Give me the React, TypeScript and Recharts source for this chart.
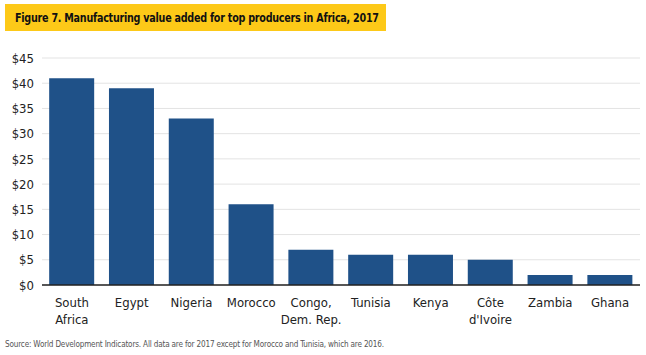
import { Bar, BarChart, CartesianGrid, XAxis, YAxis } from "recharts";

const countries = [
  "South Africa",
  "Egypt",
  "Nigeria",
  "Morocco",
  "Congo, Dem. Rep.",
  "Tunisia",
  "Kenya",
  "Côte d'Ivoire",
  "Zambia",
  "Ghana",
];
const labelLines = [
  ["South", "Africa"],
  ["Egypt"],
  ["Nigeria"],
  ["Morocco"],
  ["Congo,", "Dem. Rep."],
  ["Tunisia"],
  ["Kenya"],
  ["Côte", "d'Ivoire"],
  ["Zambia"],
  ["Ghana"],
];
const values = [41, 39, 33, 16, 7, 6, 6, 5, 2, 2];
const yTicks = [0, 5, 10, 15, 20, 25, 30, 35, 40, 45];

const data = countries.map((country, i) => ({ country, value: values[i] }));

const font = "'DejaVu Sans Condensed', 'Liberation Sans Narrow', 'Roboto', sans-serif";

function CountryTick({ x, y, index }: any) {
  const lines = labelLines[index] ?? [];
  return (
    <text x={x} y={y} textAnchor="middle" fill="#222" fontSize={13} fontFamily={font}>
      {lines.map((line, i) => (
        <tspan key={i} x={x} dy={i === 0 ? 14 : 17}>
          {line}
        </tspan>
      ))}
    </text>
  );
}

export default function App() {
  return (
    <div style={{ position: "absolute", left: 0, top: 0, width: 646, height: 355, background: "#fff", fontFamily: font }}>
      <div
        style={{
          position: "absolute",
          left: 5,
          top: 4,
          width: 381,
          height: 27,
          background: "#fdc918",
          color: "#111",
          fontWeight: 700,
          fontSize: 13,
          lineHeight: "27px",
          paddingLeft: 10,
          boxSizing: "border-box",
          whiteSpace: "nowrap",
        }}
      >
        <span style={{ display: "inline-block", transform: "scaleX(0.82)", transformOrigin: "left center", letterSpacing: -0.3 }}>
          Figure 7. Manufacturing value added for top producers in Africa, 2017
        </span>
      </div>
      <div style={{ position: "absolute", left: 0, top: 0 }}>
        <BarChart
          width={646}
          height={335}
          data={data}
          barCategoryGap="12%"
          margin={{ top: 58, right: 6, left: 0, bottom: 10 }}
        >
          <CartesianGrid stroke="#e3e3e3" vertical={false} />
          <XAxis
            dataKey="country"
            interval={0}
            tick={<CountryTick />}
            tickLine={false}
            axisLine={{ stroke: "#222", strokeWidth: 1.5 }}
            height={40}
          />
          <YAxis
            width={42}
            domain={[0, 45]}
            ticks={yTicks}
            tickFormatter={(v) => `$${v}`}
            tick={{ fill: "#222", fontSize: 13, fontFamily: font }}
            tickLine={false}
            axisLine={false}
            tickMargin={2}
          />
          <Bar dataKey="value" fill="#1f5188" isAnimationActive={false} />
        </BarChart>
      </div>
      <div
        style={{
          position: "absolute",
          left: 5,
          top: 339,
          fontSize: 9,
          color: "#555",
          whiteSpace: "nowrap",
          transform: "scaleX(0.9)",
          transformOrigin: "left center",
          letterSpacing: -0.2,
        }}
      >
        Source: World Development Indicators. All data are for 2017 except for Morocco and Tunisia, which are 2016.
      </div>
    </div>
  );
}
